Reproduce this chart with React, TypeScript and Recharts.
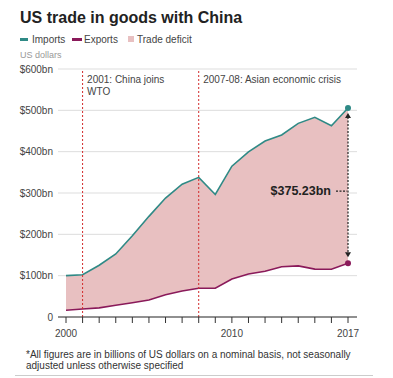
import React from 'react';
import {
  ComposedChart,
  Line,
  Area,
  XAxis,
  YAxis,
  CartesianGrid,
  ReferenceLine,
} from 'recharts';

const years = [2000, 2001, 2002, 2003, 2004, 2005, 2006, 2007, 2008, 2009, 2010, 2011, 2012, 2013, 2014, 2015, 2016, 2017];
const imports = [100.0, 102.3, 125.2, 152.4, 196.7, 243.5, 287.8, 321.4, 337.8, 296.4, 364.9, 399.4, 425.6, 440.4, 468.5, 483.2, 462.6, 505.47];
const exports = [16.2, 19.2, 22.1, 28.4, 34.4, 41.2, 53.7, 62.9, 69.7, 69.5, 91.9, 104.1, 110.5, 121.7, 123.7, 115.9, 115.6, 130.24];
const labeledYears = [2000, 2010, 2017];
const yTicks = [0, 100, 200, 300, 400, 500, 600];
const events = [
  { year: 2001, lines: ['2001: China joins', 'WTO'] },
  { year: 2008, lines: ['2007-08: Asian economic crisis'] },
];

const TEAL = '#2f8a86';
const PURPLE = '#8a1a5a';
const PINK = '#e8c0c1';
const RED = '#d22b2b';
const FONT = '"Liberation Sans", Arial, Helvetica, sans-serif';

const data = years.map((year, i) => ({
  year,
  imports: imports[i],
  exports: exports[i],
  deficit: [exports[i], imports[i]],
}));

const last = data.length - 1;
const deficitLabel = `$${(imports[last] - exports[last]).toFixed(2)}bn`;

const endDot = (color: string) => (p: any) =>
  p.index === last ? (
    <circle key={`d${p.index}`} cx={p.cx} cy={p.cy} r={3} fill={color} stroke="none" />
  ) : (
    <g key={`d${p.index}`} />
  );

const eventLabel = (lines: string[]) => (p: any) => {
  const vb = p.viewBox || {};
  return (
    <text x={vb.x + 4.5} y={vb.y + 13.5} fontSize={10} fill="#444" fontFamily={FONT}>
      {lines.map((l, i) => (
        <tspan key={i} x={vb.x + 4.5} dy={i === 0 ? 0 : 12.5}>
          {l}
        </tspan>
      ))}
    </text>
  );
};

const DeficitArrow = (p: any) => {
  const x = p.x1;
  const top = Math.min(p.y1, p.y2) + 5;
  const bottom = Math.max(p.y1, p.y2) - 6;
  const mid = (top + bottom) / 2;
  return (
    <g>
      <line x1={x} y1={top + 4} x2={x} y2={bottom - 4} stroke="#222" strokeWidth={1.2} strokeDasharray="2 1.5" />
      <path d={`M${x},${top} L${x - 3},${top + 5} L${x + 3},${top + 5} Z`} fill="#222" />
      <path d={`M${x},${bottom} L${x - 3},${bottom - 5} L${x + 3},${bottom - 5} Z`} fill="#222" />
      <line x1={x - 12} y1={mid + 6} x2={x - 1} y2={mid + 6} stroke="#222" strokeWidth={1.2} strokeDasharray="2 1.5" />
      <text x={x - 17} y={mid + 10} textAnchor="end" fontSize={12.5} fontWeight="bold" fill="#222" fontFamily={FONT}>
        {deficitLabel}
      </text>
    </g>
  );
};

const abs = (top: number, left: number, extra: React.CSSProperties = {}): React.CSSProperties => ({
  position: 'absolute',
  top,
  left,
  whiteSpace: 'nowrap',
  ...extra,
});

const App = () => {
  return (
    <div style={{ position: 'absolute', left: 0, top: 0, width: 393, height: 378, background: '#fff', fontFamily: FONT }}>
      <div style={abs(9.5, 20, { fontSize: 16, lineHeight: '16px', fontWeight: 'bold', color: '#222' })}>
        US trade in goods with China
      </div>

      <div style={abs(38, 20, { width: 8, height: 3, background: TEAL })} />
      <div style={abs(34.5, 32, { fontSize: 10, lineHeight: '10px', color: '#444' })}>Imports</div>
      <div style={abs(38, 72, { width: 10, height: 3, background: PURPLE })} />
      <div style={abs(34.5, 84, { fontSize: 10, lineHeight: '10px', color: '#444' })}>Exports</div>
      <div style={abs(36, 128, { width: 6, height: 6, background: PINK })} />
      <div style={abs(34.5, 137, { fontSize: 10, lineHeight: '10px', color: '#444' })}>Trade deficit</div>

      <div style={abs(51, 20, { fontSize: 9, lineHeight: '9px', color: '#999' })}>US dollars</div>

      <div style={abs(0, 0)}>
        <ComposedChart
          width={393}
          height={378}
          data={data}
          margin={{ top: 69, right: 36, bottom: 31, left: 8 }}
        >
          <CartesianGrid horizontal vertical={false} stroke="#dddddd" />
          <XAxis
            dataKey="year"
            type="number"
            domain={[2000, 2017]}
            ticks={years}
            interval={0}
            padding={{ left: 8, right: 9 }}
            tickFormatter={(v: number) => (labeledYears.includes(v) ? String(v) : '')}
            tick={{ fontSize: 10, fill: '#444', fontFamily: FONT }}
            axisLine={{ stroke: '#333' }}
            tickLine={{ stroke: '#333' }}
            tickSize={6}
            tickMargin={7}
            height={30}
          />
          <YAxis
            domain={[0, 600]}
            ticks={yTicks}
            width={50}
            axisLine={false}
            tickLine={false}
            tickSize={0}
            tickMargin={5}
            tick={{ fontSize: 10, fill: '#444', fontFamily: FONT }}
            tickFormatter={(v: number) => (v === 0 ? '0' : `$${v}bn`)}
          />
          <Area
            type="linear"
            dataKey="deficit"
            fill={PINK}
            fillOpacity={1}
            stroke="none"
            isAnimationActive={false}
          />
          <Line
            type="linear"
            dataKey="exports"
            stroke={PURPLE}
            strokeWidth={1.6}
            dot={endDot(PURPLE)}
            activeDot={false}
            isAnimationActive={false}
          />
          <Line
            type="linear"
            dataKey="imports"
            stroke={TEAL}
            strokeWidth={1.6}
            dot={endDot(TEAL)}
            activeDot={false}
            isAnimationActive={false}
          />
          {events.map((e) => (
            <ReferenceLine
              key={e.year}
              x={e.year}
              stroke={RED}
              strokeDasharray="2 2"
              strokeWidth={1}
              label={eventLabel(e.lines)}
            />
          ))}
          <ReferenceLine
            segment={[
              { x: years[last], y: exports[last] },
              { x: years[last], y: imports[last] },
            ]}
            shape={DeficitArrow}
          />
        </ComposedChart>
      </div>

      <div style={abs(348.8, 26, { fontSize: 10, lineHeight: '11.5px', color: '#333' })}>
        *All figures are in billions of US dollars on a nominal basis, not seasonally
        <br />
        adjusted unless otherwise specified
      </div>
      <div style={abs(375, 15, { width: 358, height: 1, background: '#cccccc' })} />
    </div>
  );
};

export default App;
